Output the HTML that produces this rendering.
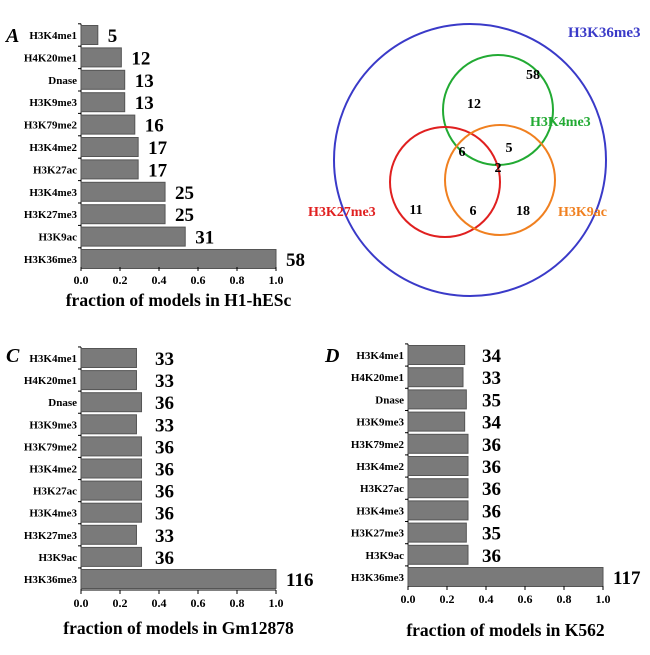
<!DOCTYPE html>
<html><head><meta charset="utf-8"><style>
body{margin:0;background:#fff}
svg text{font-family:"Liberation Serif",serif;font-weight:bold}
</style></head><body>
<svg id="s" width="650" height="650" xmlns="http://www.w3.org/2000/svg">
<g>
<circle cx="470" cy="160" r="136" fill="none" stroke="#3a3ac8" stroke-width="2"/>
<circle cx="498" cy="110" r="55" fill="none" stroke="#22aa33" stroke-width="2"/>
<circle cx="445" cy="182" r="55" fill="none" stroke="#e02020" stroke-width="2"/>
<circle cx="500" cy="180" r="55" fill="none" stroke="#f08020" stroke-width="2"/>
<text x="568" y="37" font-size="15" fill="#3a3ac8">H3K36me3</text>
<text x="530" y="126" font-size="14" fill="#22aa33">H3K4me3</text>
<text x="308" y="216" font-size="14" fill="#e02020">H3K27me3</text>
<text x="558" y="216" font-size="14" fill="#f08020">H3K9ac</text>
<g font-size="14" text-anchor="middle">
<text x="533" y="79">58</text><text x="474" y="108">12</text><text x="462" y="156">6</text>
<text x="498" y="172">2</text><text x="509" y="152">5</text><text x="416" y="214">11</text>
<text x="473" y="215">6</text><text x="523" y="215">18</text></g>
</g>
</svg>
<script>
const cats=["H3K4me1","H4K20me1","Dnase","H3K9me3","H3K79me2","H3K4me2","H3K27ac","H3K4me3","H3K27me3","H3K9ac","H3K36me3"];
const valsA=[5,12,13,13,16,17,17,25,25,31,58];
const valsC=[33,33,36,33,36,36,36,36,33,36,116];
const valsD=[34,33,35,34,36,36,36,36,35,36,117];
const ticks=["0.0","0.2","0.4","0.6","0.8","1.0"];
const NS="http://www.w3.org/2000/svg",svg=document.getElementById("s");
function mk(t,a,p){const e=document.createElementNS(NS,t);for(const k in a)e.setAttribute(k,a[k]);(p||svg).appendChild(e);return e;}
function panel(id,vals,x0,x1,y0,y1,axisY,valX,title,titleY,letter,lx,ly){
 const g=mk("g",{});
 
 
 const max=Math.max(...vals);
 const xs=v=>x0+(v)*(x1-x0);
 const step=(y1-y0)/(cats.length-1);
 const ys=i=>y0+i*step;
 const lt=mk("text",{x:lx,y:ly,"font-size":20,"font-style":"italic"},g);lt.textContent=letter;
 
 
 mk("line",{x1:x0,y1:ys(0)-step/2,x2:x0,y2:axisY,stroke:"#000","stroke-width":1},g);
 mk("line",{x1:x0,y1:axisY,x2:x1,y2:axisY,stroke:"#000","stroke-width":1},g);
 vals.forEach((v,i)=>{
  const f=v/max,y=ys(i);
  const r=mk("rect",{x:x0,y:y-9.5,width:xs(f)-x0,height:19,fill:"#7a7a7a",stroke:"#555","stroke-width":1},g);
  
  
  const c=mk("text",{x:x0-4,y:y+4,"font-size":11,"text-anchor":"end"},g);c.textContent=cats[i];
  
  
  const vx=valX!=null&&f<0.9?valX:xs(f)+10;
  const t=mk("text",{x:vx,y:y+7,"font-size":19},g);t.textContent=v;
  
  
  mk("line",{x1:x0-3,y1:y-step/2,x2:x0,y2:y-step/2,stroke:"#000"},g);
 });
 ticks.forEach((tk,i)=>{
  const x=xs(parseFloat(tk));
  mk("line",{x1:x,y1:axisY,x2:x,y2:axisY+4,stroke:"#000"},g);
  const t=mk("text",{x:x,y:axisY+17,"font-size":12,"text-anchor":"middle"},g);t.textContent=tk;
  
  
 });
 const tt=mk("text",{x:(x0+x1)/2,y:titleY,"font-size":17.5,"text-anchor":"middle"},g);tt.textContent=title;
 
 
}
panel("a",valsA,81,276,35,259,267,null,"fraction of models in H1-hESc",306,"A",6,42);
panel("c",valsC,81,276,358,579,590,155,"fraction of models in Gm12878",634,"C",6,362);
panel("d",valsD,408,603,355,577,586,482,"fraction of models in K562",636,"D",325,362);
</script>
</body></html>
